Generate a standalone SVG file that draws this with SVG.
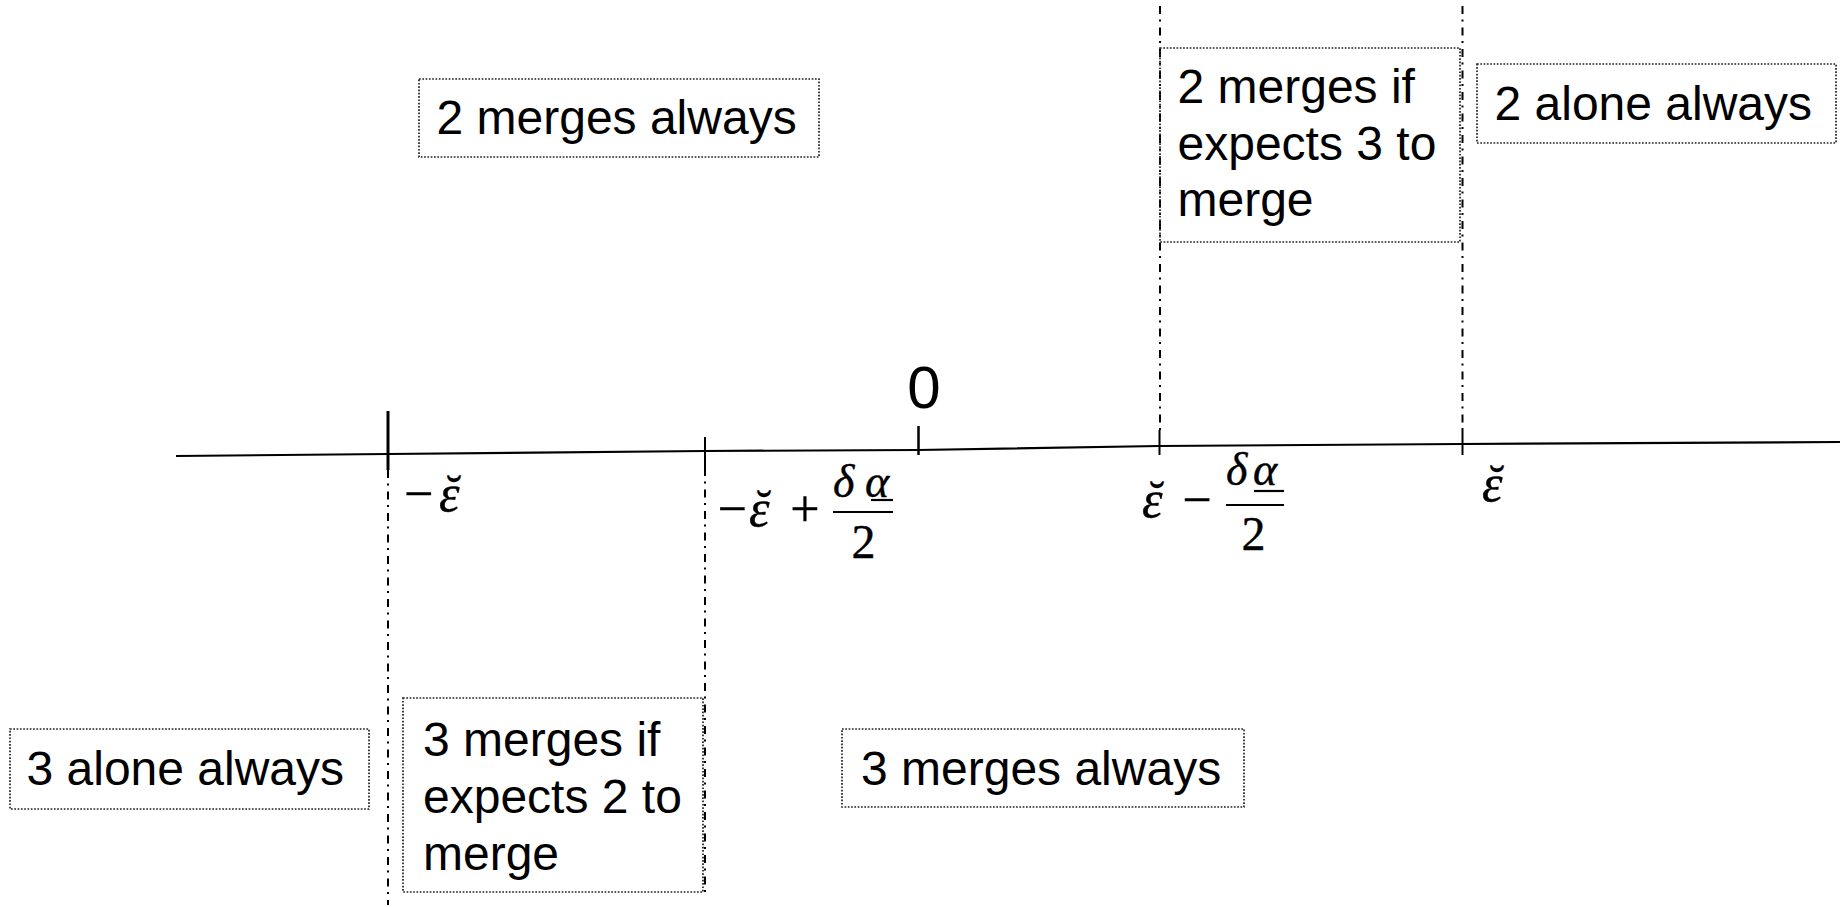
<svg xmlns="http://www.w3.org/2000/svg" width="1843" height="907" viewBox="0 0 1843 907">
<style>
.box{fill:none;stroke:#222;stroke-width:1.7;stroke-dasharray:1.7 1.6}
.lbl{font-family:"Liberation Sans",Arial,sans-serif;font-size:48px;fill:#000}
.dd{stroke:#000;stroke-width:2;stroke-dasharray:8 5.5 2 6;fill:none}
.tick{stroke:#000;fill:none}
.m{font-family:"Liberation Serif","Times New Roman",serif;font-size:52px;fill:#000;stroke:#000;stroke-width:0.4}
.mi{font-family:"Liberation Serif","Times New Roman",serif;font-style:italic;font-size:52px;fill:#000;stroke:#000;stroke-width:0.4}
.br{font-family:"Liberation Serif","Times New Roman",serif;font-size:48px;fill:#000;stroke:#000;stroke-width:0.3}
.num{font-size:46px}
.den{font-size:48px}
.bar{stroke:#000;stroke-width:2.2}
</style>
<rect width="1843" height="907" fill="#fff"/>
<g id="axis">
<polyline points="176,456 388,454 705,451 918,450 1159,446 1462,444 1840,442" fill="none" stroke="#000" stroke-width="2.2"/>
<line class="tick" x1="388" y1="411" x2="388" y2="470" stroke-width="3"/>
<line class="tick" x1="705" y1="437" x2="705" y2="468" stroke-width="2"/>
<line class="tick" x1="918.5" y1="426" x2="918.5" y2="455" stroke-width="2.5"/>
<line class="tick" x1="1159.5" y1="430" x2="1159.5" y2="455" stroke-width="2"/>
<line class="tick" x1="1462.5" y1="430" x2="1462.5" y2="455" stroke-width="2"/>
<text x="924" y="408" text-anchor="middle" class="lbl" style="font-size:60px">0</text>
</g>
<g id="connectors">
<line class="dd" x1="388" y1="470" x2="388" y2="905"/>
<line class="dd" x1="705" y1="468" x2="705" y2="893"/>
<line class="dd" x1="1160" y1="6" x2="1160" y2="430"/>
<line class="dd" x1="1462.5" y1="6" x2="1462.5" y2="430"/>
</g>
<g id="label-neg-eps">
<text x="404" y="511" class="m">−</text>
<text x="439" y="511" class="mi">ε</text>
<text x="454" y="509" class="br" text-anchor="middle">˘</text>
</g>
<g id="label-neg-eps-plus">
<text x="717.5" y="526" class="m">−</text>
<text x="749" y="526" class="mi">ε</text>
<text x="764" y="524" class="br" text-anchor="middle">˘</text>
<text x="805" y="526" class="m" text-anchor="middle">+</text>
<text x="833" y="497" class="mi num">δ</text>
<text x="865" y="497" class="mi num">α</text>
<line class="bar" x1="871" y1="500" x2="893" y2="500"/>
<line class="bar" x1="833" y1="512" x2="893" y2="512"/>
<text x="863.5" y="558" class="m den" text-anchor="middle">2</text>
</g>
<g id="label-eps-minus">
<text x="1142" y="517" class="mi">ε</text>
<text x="1157" y="515" class="br" text-anchor="middle">˘</text>
<text x="1197" y="517" class="m" text-anchor="middle">−</text>
<text x="1226" y="485" class="mi num">δ</text>
<text x="1253" y="485" class="mi num">α</text>
<line class="bar" x1="1254" y1="491" x2="1284" y2="491"/>
<line class="bar" x1="1226" y1="505" x2="1284" y2="505"/>
<text x="1253.5" y="550" class="m den" text-anchor="middle">2</text>
</g>
<g id="label-eps">
<text x="1482" y="501" class="mi">ε</text>
<text x="1497" y="499" class="br" text-anchor="middle">˘</text>
</g>
<g id="node-2-merges-always">
<rect class="box" x="419" y="79" width="400" height="78"/>
<text x="436.5" y="134" class="lbl">2 merges always</text>
</g>
<g id="node-2-merges-if">
<rect class="box" x="1160" y="48" width="300" height="194"/>
<text class="lbl"><tspan x="1177.5" y="103">2 merges if</tspan><tspan x="1177.5" y="159.5">expects 3 to</tspan><tspan x="1177.5" y="216">merge</tspan></text>
</g>
<g id="node-2-alone-always">
<rect class="box" x="1477" y="64" width="359" height="79"/>
<text x="1494.5" y="120" class="lbl">2 alone always</text>
</g>
<g id="node-3-alone-always">
<rect class="box" x="10" y="729" width="359" height="80"/>
<text x="26.5" y="785" class="lbl">3 alone always</text>
</g>
<g id="node-3-merges-if">
<rect class="box" x="403" y="698" width="300" height="194"/>
<text class="lbl"><tspan x="423" y="756">3 merges if</tspan><tspan x="423" y="813">expects 2 to</tspan><tspan x="423" y="870">merge</tspan></text>
</g>
<g id="node-3-merges-always">
<rect class="box" x="842" y="729" width="402" height="78"/>
<text x="861" y="785" class="lbl">3 merges always</text>
</g>
</svg>
